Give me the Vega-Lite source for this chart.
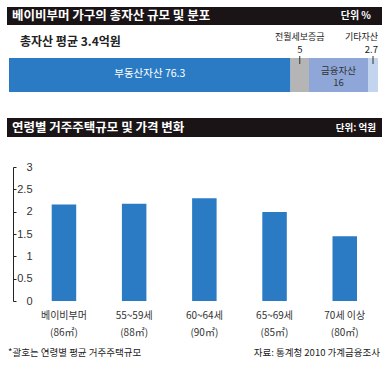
{
  "$schema": "https://vega.github.io/schema/vega-lite/v6.json",
  "autosize": {"type": "pad"},
  "padding": {"left": 7, "top": 7, "right": 4, "bottom": 4},
  "background": "white",
  "bounds": "flush",
  "spacing": 75,
  "config": {
    "view": {"stroke": null},
    "font": "Noto Sans CJK KR",
    "text": {"font": "Noto Sans CJK KR"}
  },
  "datasets": {
    "assets": [
      {"asset": "부동산자산", "share": 76.3, "order": 1},
      {"asset": "전월세보증금", "share": 5, "order": 2},
      {"asset": "금융자산", "share": 16, "order": 3},
      {"asset": "기타자산", "share": 2.7, "order": 4}
    ],
    "housing": [
      {"group": "베이비부머", "area": "(86㎡)", "price": 2.16},
      {"group": "55~59세", "area": "(88㎡)", "price": 2.18},
      {"group": "60~64세", "area": "(90㎡)", "price": 2.3},
      {"group": "65~69세", "area": "(85㎡)", "price": 1.99},
      {"group": "70세 이상", "area": "(80㎡)", "price": 1.45}
    ]
  },
  "vconcat": [
    {
      "width": 369,
      "height": 34,
      "data": {"name": "assets"},
      "transform": [
        {"stack": "share", "groupby": [], "sort": [{"field": "order", "order": "ascending"}], "as": ["x0", "x1"]},
        {"calculate": "(datum.x0 + datum.x1) / 2", "as": "mid"},
        {"calculate": "datum.asset + ' ' + datum.share", "as": "full"}
      ],
      "layer": [
        {
          "data": {"values": [{"title": "베이비부머 가구의 총자산 규모 및 분포", "unit": "단위 %", "sub": "총자산 평균 3.4억원"}]},
          "transform": [],
          "layer": [
            {"mark": {"type": "rect", "color": "#1a1416"}, "encoding": {"x": {"value": -2}, "x2": {"value": 373}, "y": {"value": -51}, "y2": {"value": -33}}},
            {"mark": {"type": "text", "align": "left", "baseline": "middle", "fontSize": 12.5, "fontWeight": "bold", "color": "white"}, "encoding": {"text": {"field": "title"}, "x": {"value": 3}, "y": {"value": -42}}},
            {"mark": {"type": "text", "align": "right", "baseline": "middle", "fontSize": 10, "fontWeight": "bold", "color": "white"}, "encoding": {"text": {"field": "unit"}, "x": {"value": 362}, "y": {"value": -42}}},
            {"mark": {"type": "text", "align": "left", "baseline": "middle", "fontSize": 12, "fontWeight": "bold", "color": "#222"}, "encoding": {"text": {"field": "sub"}, "x": {"value": 11}, "y": {"value": -16}}}
          ]
        },
        {
          "mark": {"type": "bar"},
          "encoding": {
            "x": {"field": "x0", "type": "quantitative", "scale": {"domain": [0, 100], "nice": false}, "axis": null},
            "x2": {"field": "x1"},
            "y": {"value": 0},
            "y2": {"value": "height"},
            "color": {
              "field": "asset", "type": "nominal",
              "scale": {"domain": ["부동산자산", "전월세보증금", "금융자산", "기타자산"], "range": ["#2a7bc4", "#b5b5b5", "#8ea7d8", "#c3d4ee"]},
              "legend": null
            }
          }
        },
        {
          "transform": [{"filter": "datum.order == 1"}],
          "mark": {"type": "text", "baseline": "middle", "fontSize": 10.5, "color": "white"},
          "encoding": {"x": {"field": "mid", "type": "quantitative"}, "y": {"value": 16}, "text": {"field": "full"}}
        },
        {
          "transform": [{"filter": "datum.order == 3"}],
          "mark": {"type": "text", "baseline": "middle", "fontSize": 9.5, "color": "#333"},
          "encoding": {"x": {"field": "mid", "type": "quantitative"}, "y": {"value": 12.5}, "text": {"field": "asset"}}
        },
        {
          "transform": [{"filter": "datum.order == 3"}],
          "mark": {"type": "text", "baseline": "middle", "fontSize": 9.5, "color": "#333"},
          "encoding": {"x": {"field": "mid", "type": "quantitative"}, "y": {"value": 25}, "text": {"field": "share"}}
        },
        {
          "transform": [{"filter": "datum.order == 2 || datum.order == 4"}],
          "mark": {"type": "rule", "color": "#333", "strokeWidth": 1},
          "encoding": {"x": {"field": "mid", "type": "quantitative"}, "y": {"value": -2}, "y2": {"value": 6}}
        },
        {
          "transform": [{"filter": "datum.order == 2"}],
          "mark": {"type": "text", "baseline": "middle", "fontSize": 9, "color": "#222"},
          "encoding": {"x": {"field": "mid", "type": "quantitative"}, "y": {"value": -21}, "text": {"field": "asset"}}
        },
        {
          "transform": [{"filter": "datum.order == 2"}],
          "mark": {"type": "text", "baseline": "middle", "fontSize": 9.5, "color": "#222"},
          "encoding": {"x": {"field": "mid", "type": "quantitative"}, "y": {"value": -8}, "text": {"field": "share"}}
        },
        {
          "transform": [{"filter": "datum.order == 4"}],
          "mark": {"type": "text", "baseline": "middle", "align": "right", "fontSize": 9, "color": "#222"},
          "encoding": {"x": {"field": "x1", "type": "quantitative"}, "y": {"value": -21}, "text": {"field": "asset"}}
        },
        {
          "transform": [{"filter": "datum.order == 4"}],
          "mark": {"type": "text", "baseline": "middle", "align": "right", "fontSize": 9.5, "color": "#222"},
          "encoding": {"x": {"field": "x1", "type": "quantitative"}, "y": {"value": -8}, "text": {"field": "share"}}
        }
      ]
    },
    {
      "width": 371,
      "height": 134,
      "data": {"name": "housing"},
      "layer": [
        {
          "data": {"values": [{"title": "연령별 거주주택규모 및 가격 변화", "unit": "단위: 억원", "note": "*괄호는 연령별 평균 거주주택규모", "source": "자료: 통계청 2010 가계금융조사"}]},
          "layer": [
            {"mark": {"type": "rect", "color": "#1a1416"}, "encoding": {"x": {"value": -2}, "x2": {"value": 373}, "y": {"value": -49}, "y2": {"value": -30}}},
            {"mark": {"type": "text", "align": "left", "baseline": "middle", "fontSize": 12.5, "fontWeight": "bold", "color": "white"}, "encoding": {"text": {"field": "title"}, "x": {"value": 3}, "y": {"value": -39.5}}},
            {"mark": {"type": "text", "align": "right", "baseline": "middle", "fontSize": 9.5, "fontWeight": "bold", "color": "white"}, "encoding": {"text": {"field": "unit"}, "x": {"value": 367}, "y": {"value": -39.5}}},
            {"mark": {"type": "text", "align": "left", "baseline": "middle", "fontSize": 9.5, "color": "#222"}, "encoding": {"text": {"field": "note"}, "x": {"value": -1}, "y": {"value": 186}}},
            {"mark": {"type": "text", "align": "right", "baseline": "middle", "fontSize": 9.5, "color": "#222"}, "encoding": {"text": {"field": "source"}, "x": {"value": "width"}, "y": {"value": 186}}}
          ]
        },
        {
          "mark": {"type": "bar", "color": "#2a7bc4"},
          "encoding": {
            "x": {
              "field": "group", "type": "nominal", "sort": null,
              "scale": {"paddingInner": 0.651, "paddingOuter": 0.468, "align": 0.65},
              "axis": {"title": null, "domain": false, "ticks": false, "labelAngle": 0, "labelFontSize": 10, "labelColor": "#333", "labelPadding": 14, "labelBaseline": "middle", "labelFont": "Noto Sans CJK KR"}
            },
            "y": {
              "field": "price", "type": "quantitative",
              "scale": {"domain": [0, 3], "nice": false},
              "axis": {"title": null, "grid": false, "values": [0, 0.5, 1, 1.5, 2, 2.5, 3], "tickCount": 7, "format": ".1~f", "labelOverlap": false, "domainColor": "#222", "tickColor": "#222", "tickSize": -3, "labelPadding": -16, "labelAlign": "right", "labelBaseline": "middle", "offset": -4, "labelFontSize": 11, "labelColor": "#333", "labelFont": "Liberation Sans"}
            }
          }
        },
        {
          "mark": {"type": "text", "baseline": "middle", "fontSize": 10, "color": "#333", "dy": 32},
          "encoding": {
            "x": {"field": "group", "type": "nominal", "sort": null},
            "y": {"value": "height"},
            "text": {"field": "area"}
          }
        }
      ]
    }
  ]
}
